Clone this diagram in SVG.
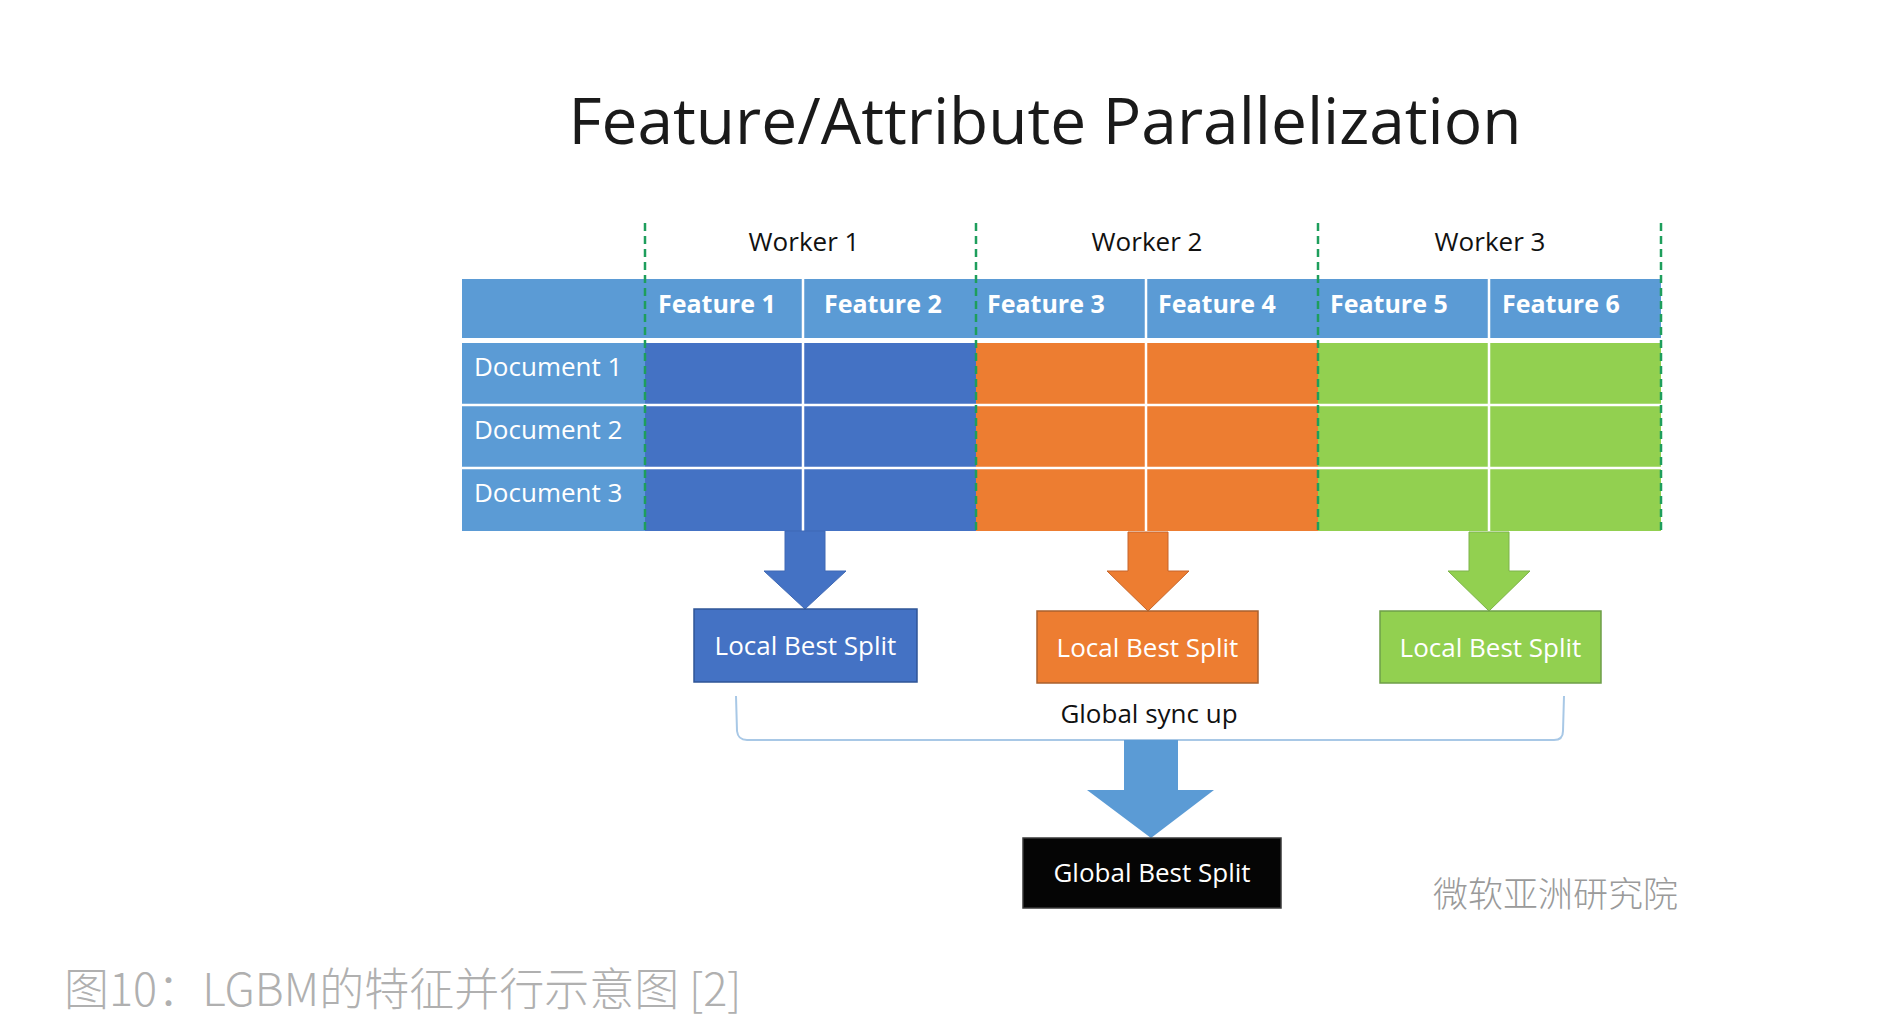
<svg xmlns="http://www.w3.org/2000/svg" width="1892" height="1036" viewBox="0 0 1892 1036">
<style>
  text { font-family: "Open Sans", "Noto Sans", "Liberation Sans", sans-serif; }
  .title { font-size: 64px; fill: #1a1a1a; text-anchor: middle; }
  .worker { font-size: 26px; fill: #111; text-anchor: middle; }
  .feat { font-size: 25px; font-weight: 700; fill: #fff; }
  .doc { font-size: 26px; fill: #fff; }
  .box-t { font-size: 26px; fill: #fff; text-anchor: middle; }
  .sync { font-size: 26px; fill: #111; text-anchor: middle; }
  .hdr { fill: #5B9BD5; }
  .wl { stroke: #fff; stroke-width: 2.5; fill: none; }
  .dash { stroke: #1E9E5C; stroke-width: 2.5; stroke-dasharray: 8 5; fill: none; }
  .caption { font-family: "Noto Sans CJK SC", "Noto Sans", sans-serif; font-size: 45px; font-weight: 300; fill: #b0b0b0; }
  .wm { font-family: "Noto Sans CJK SC", sans-serif; font-size: 35px; font-weight: 300; fill: #9a9a9a; }
</style>
<rect width="1892" height="1036" fill="#fff"/>

<g id="title"><text class="title" x="1045" y="144">Feature/Attribute Parallelization</text></g>

<g id="workers">
  <text class="worker" x="804" y="251">Worker 1</text>
  <text class="worker" x="1147" y="251">Worker 2</text>
  <text class="worker" x="1490" y="251">Worker 3</text>
</g>

<g id="table">
  <rect class="hdr" x="462" y="279" width="1199" height="59"/>
  <rect class="hdr" x="462" y="343" width="183" height="188"/>
  <rect x="645" y="343" width="331" height="188" fill="#4472C4"/>
  <rect x="976" y="343" width="342" height="188" fill="#ED7D31"/>
  <rect x="1318" y="343" width="343" height="188" fill="#92D050"/>
  <path class="wl" d="M462 405 H1661 M462 468 H1661 M803 279 V531 M1146 279 V531 M1489 279 V531"/>
  <text class="feat" x="658" y="313">Feature 1</text>
  <text class="feat" x="824" y="313">Feature 2</text>
  <text class="feat" x="987" y="313">Feature 3</text>
  <text class="feat" x="1158" y="313">Feature 4</text>
  <text class="feat" x="1330" y="313">Feature 5</text>
  <text class="feat" x="1502" y="313">Feature 6</text>
  <text class="doc" x="474" y="376">Document 1</text>
  <text class="doc" x="474" y="439">Document 2</text>
  <text class="doc" x="474" y="502">Document 3</text>
  <path class="dash" d="M645 223 V531 M976 223 V531 M1318 223 V531 M1661 223 V531"/>
</g>

<g id="connectors">
  <polygon points="785,531 825,531 825,571 846,571 805,609 764,571 785,571" fill="#4472C4" stroke="#3F69B5" stroke-width="1"/>
  <polygon points="1128,532 1168,532 1168,571 1189,571 1148,611 1107,571 1128,571" fill="#ED7D31" stroke="#C7652A" stroke-width="1"/>
  <polygon points="1469,532 1509,532 1509,571 1530,571 1489,611 1448,571 1469,571" fill="#92D050" stroke="#7DB34A" stroke-width="1"/>
  <path d="M736 696 L737 731 Q738 740 747 740 L1554 740 Q1563 740 1563 731 L1564 696" fill="none" stroke="#A8C8E6" stroke-width="2"/>
  <polygon points="1124,740 1178,740 1178,790 1214,790 1151,838 1087,790 1124,790" fill="#5B9BD5"/>
</g>

<g id="local1">
  <rect x="694" y="609" width="223" height="73" fill="#4472C4" stroke="#2F5597" stroke-width="1.5"/>
  <text class="box-t" x="805.5" y="655">Local Best Split</text>
</g>
<g id="local2">
  <rect x="1037" y="611" width="221" height="72" fill="#ED7D31" stroke="#A9602E" stroke-width="1.5"/>
  <text class="box-t" x="1147.5" y="657">Local Best Split</text>
</g>
<g id="local3">
  <rect x="1380" y="611" width="221" height="72" fill="#92D050" stroke="#6E9E48" stroke-width="1.5"/>
  <text class="box-t" x="1490.5" y="657">Local Best Split</text>
</g>

<g id="sync"><text class="sync" x="1149" y="723">Global sync up</text></g>

<g id="global">
  <rect x="1023" y="838" width="258" height="70" fill="#050505" stroke="#3a3a3a" stroke-width="1.5"/>
  <text class="box-t" x="1152" y="882">Global Best Split</text>
</g>

<g id="watermark"><text class="wm" x="1433" y="907">微软亚洲研究院</text></g>

<g id="caption"><text class="caption" x="64" y="1006">图10：LGBM的特征并行示意图 [2]</text></g>
</svg>
